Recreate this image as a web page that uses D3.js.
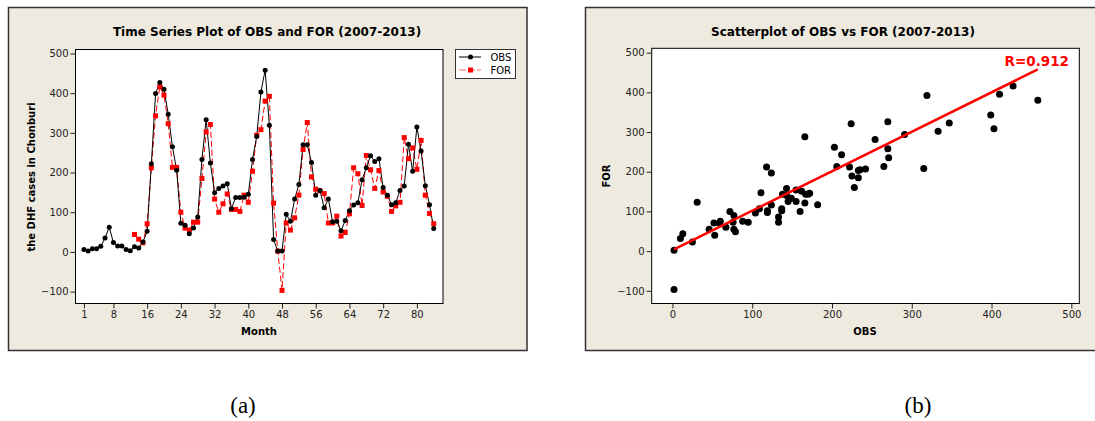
<!DOCTYPE html>
<html>
<head>
<meta charset="utf-8">
<script src="https://cdn.jsdelivr.net/npm/d3@7"></script>
<style>
  body { margin: 0; background: #fff; }
</style>
</head>
<body>
<div id="chart"></div>
<script>
const width = 1095,
    height = 421;

// monthly DHF cases, months 1..84
const months = d3.range(1, 85);
const obs = [6, 2, 8, 8, 14, 35, 62, 24, 15, 15, 6, 3, 13, 10, 25, 52, 222, 399, 427, 410,
    347, 265, 206, 72, 67, 46, 60, 88, 233, 333, 224, 149, 160, 166, 172, 109, 137, 137, 138, 145,
    233, 291, 403, 458, 319, 31, 2, 2, 95, 77, 133, 170, 270, 270, 225, 143, 155, 111, 133, 76,
    77, 53, 79, 104, 118, 124, 182, 212, 242, 228, 235, 162, 143, 119, 124, 155, 166, 271, 203, 315,
    254, 167, 119, 59];
// forecasts start at month 13
const forStart = 13;
const fore = [44, 32, 23, 71, 212, 343, 416, 395, 323, 213, 213, 100, 60, 55, 75, 75, 185, 302, 321, 133,
    100, 121, 146, 107, 107, 102, 143, 125, 203, 294, 308, 380, 392, 123, 2, -97, 73, 55, 86, 143,
    258, 326, 189, 158, 154, 147, 73, 73, 90, 40, 49, 96, 212, 197, 117, 243, 207, 160, 205, 151,
    140, 102, 116, 125, 288, 235, 262, 208, 281, 143, 97, 71];

const xTicksL = [1, 8, 16, 24, 32, 40, 48, 56, 64, 72, 80];
const yTicks = [-100, 0, 100, 200, 300, 400, 500];
const xTicksR = [0, 100, 200, 300, 400, 500];

// fitted line
const fitIntercept = 2.5,
    fitSlope = 0.994,
    rLabel = "R=0.912";

const panelFill = "#eeeadf";
const sans = '"DejaVu Sans", Verdana, sans-serif',
    serif = '"Liberation Serif", "Times New Roman", serif';

const svg = d3.select("#chart")
  .append("svg")
  .attr("width", width)
  .attr("height", height)
  .attr("font-family", sans);

const obsData = months.map((m, i) => ({m: m, v: obs[i]}));
const forData = fore.map((v, i) => ({m: forStart + i, v: v}));
const pairs = fore.map((v, i) => ({o: obs[forStart - 1 + i], f: v}));

function styleAxis(g) {
    g.select('.domain').remove();
    g.selectAll('.tick line').attr('stroke', '#222');
    g.selectAll('.tick text')
        .attr('font-size', 10)
        .attr('fill', '#222')
        .attr('font-family', sans);
}

// ---------- panel (a) ----------
svg.append('rect')
    .attr('x', 8.5).attr('y', 7.5)
    .attr('width', 518.5).attr('height', 343)
    .attr('fill', panelFill)
    .attr('stroke', '#333').attr('stroke-width', 1.5);

var xL = d3.scaleLinear().domain([-1, 86.2]).range([75.5, 443]);
var yL = d3.scaleLinear().domain([-130, 510]).range([303.5, 49.5]);

svg.append('rect')
    .attr('x', 75.5).attr('y', 49.5)
    .attr('width', 443 - 75.5).attr('height', 303.5 - 49.5)
    .attr('fill', '#fff').attr('stroke', '#000');

svg.append('g')
    .attr('transform', 'translate(75.5,0)')
    .call(d3.axisLeft(yL).tickValues(yTicks).tickSize(5).tickPadding(2))
    .call(styleAxis);

svg.append('g')
    .attr('transform', 'translate(0,303.5)')
    .call(d3.axisBottom(xL).tickValues(xTicksL).tickSize(5).tickPadding(2))
    .call(styleAxis);

var lineL = d3.line()
    .x(function(d) { return xL(d.m) })
    .y(function(d) { return yL(d.v) });

svg.append('path')
    .datum(forData)
    .attr('d', lineL)
    .attr('fill', 'none')
    .attr('stroke', '#ff0000')
    .attr('stroke-width', 1)
    .attr('stroke-dasharray', '6,3');

svg.append('path')
    .datum(obsData)
    .attr('d', lineL)
    .attr('fill', 'none')
    .attr('stroke', '#000')
    .attr('stroke-width', 1);

svg.selectAll('.for-pt')
    .data(forData)
    .enter().append('rect')
    .attr('class', 'for-pt')
    .attr('x', function(d) { return xL(d.m) - 2.5 })
    .attr('y', function(d) { return yL(d.v) - 2.5 })
    .attr('width', 5).attr('height', 5)
    .attr('fill', '#ff0000');

svg.selectAll('.obs-pt')
    .data(obsData)
    .enter().append('circle')
    .attr('class', 'obs-pt')
    .attr('cx', function(d) { return xL(d.m) })
    .attr('cy', function(d) { return yL(d.v) })
    .attr('r', 2.5)
    .attr('fill', '#000');

svg.append('text')
    .attr('x', 267).attr('y', 36)
    .attr('text-anchor', 'middle')
    .attr('font-size', 12).attr('font-weight', 'bold')
    .text('Time Series Plot of OBS and FOR (2007-2013)');

svg.append('text')
    .attr('x', 259).attr('y', 335)
    .attr('text-anchor', 'middle')
    .attr('font-size', 10).attr('font-weight', 'bold')
    .text('Month');

svg.append('text')
    .attr('transform', 'translate(35,177) rotate(-90)')
    .attr('text-anchor', 'middle')
    .attr('font-size', 10).attr('font-weight', 'bold')
    .text('the DHF cases in Chonburi');

// legend
var legend = svg.append('g');
legend.append('rect')
    .attr('x', 455.5).attr('y', 49.5)
    .attr('width', 60).attr('height', 29)
    .attr('fill', '#fff').attr('stroke', '#333');
legend.append('line')
    .attr('x1', 459).attr('x2', 481).attr('y1', 57).attr('y2', 57)
    .attr('stroke', '#000');
legend.append('circle')
    .attr('cx', 470.5).attr('cy', 57).attr('r', 2.5).attr('fill', '#000');
legend.append('line')
    .attr('x1', 459).attr('x2', 481).attr('y1', 70).attr('y2', 70)
    .attr('stroke', '#ff6666').attr('stroke-dasharray', '7,2');
legend.append('rect')
    .attr('x', 468).attr('y', 67.5).attr('width', 5).attr('height', 5).attr('fill', '#ff0000');
legend.append('text')
    .attr('x', 490.5).attr('y', 60.5).attr('font-size', 10).text('OBS');
legend.append('text')
    .attr('x', 490.5).attr('y', 73.5).attr('font-size', 10).text('FOR');

// ---------- panel (b) ----------
svg.append('rect')
    .attr('x', 585.5).attr('y', 7.5)
    .attr('width', 520).attr('height', 343)
    .attr('fill', panelFill)
    .attr('stroke', '#333').attr('stroke-width', 1.5);

var xR = d3.scaleLinear().domain([-26, 510]).range([651.7, 1079.3]);
var yR = d3.scaleLinear().domain([-132, 511]).range([303.5, 48.3]);

svg.append('rect')
    .attr('x', 651.7).attr('y', 48.3)
    .attr('width', 1079.3 - 651.7).attr('height', 303.5 - 48.3)
    .attr('fill', '#fff').attr('stroke', '#000');

svg.append('g')
    .attr('transform', 'translate(651.7,0)')
    .call(d3.axisLeft(yR).tickValues(yTicks).tickSize(5).tickPadding(2))
    .call(styleAxis);

svg.append('g')
    .attr('transform', 'translate(0,303.5)')
    .call(d3.axisBottom(xR).tickValues(xTicksR).tickSize(5).tickPadding(2))
    .call(styleAxis);

var obsExtent = d3.extent(pairs, function(d) { return d.o });

svg.selectAll('.sc-pt')
    .data(pairs)
    .enter().append('circle')
    .attr('class', 'sc-pt')
    .attr('cx', function(d) { return xR(d.o) })
    .attr('cy', function(d) { return yR(d.f) })
    .attr('r', 3.5)
    .attr('fill', '#000');

svg.append('line')
    .attr('x1', xR(obsExtent[0])).attr('y1', yR(fitIntercept + fitSlope * obsExtent[0]))
    .attr('x2', xR(obsExtent[1])).attr('y2', yR(fitIntercept + fitSlope * obsExtent[1]))
    .attr('stroke', '#ff0000')
    .attr('stroke-width', 2.5);

svg.append('text')
    .attr('x', 1069).attr('y', 66)
    .attr('text-anchor', 'end')
    .attr('font-size', 13.5).attr('font-weight', 'bold')
    .attr('fill', '#ff0000')
    .text(rLabel);

svg.append('text')
    .attr('x', 843).attr('y', 36)
    .attr('text-anchor', 'middle')
    .attr('font-size', 12).attr('font-weight', 'bold')
    .text('Scatterplot of OBS vs FOR (2007-2013)');

svg.append('text')
    .attr('x', 865).attr('y', 335)
    .attr('text-anchor', 'middle')
    .attr('font-size', 10).attr('font-weight', 'bold')
    .text('OBS');

svg.append('text')
    .attr('transform', 'translate(610,176) rotate(-90)')
    .attr('text-anchor', 'middle')
    .attr('font-size', 10).attr('font-weight', 'bold')
    .text('FOR');

// captions
svg.append('text')
    .attr('x', 243).attr('y', 413)
    .attr('text-anchor', 'middle')
    .attr('font-family', serif)
    .attr('font-size', 23)
    .text('(a)');

svg.append('text')
    .attr('x', 918).attr('y', 413)
    .attr('text-anchor', 'middle')
    .attr('font-family', serif)
    .attr('font-size', 23)
    .text('(b)');
</script>
</body>
</html>
